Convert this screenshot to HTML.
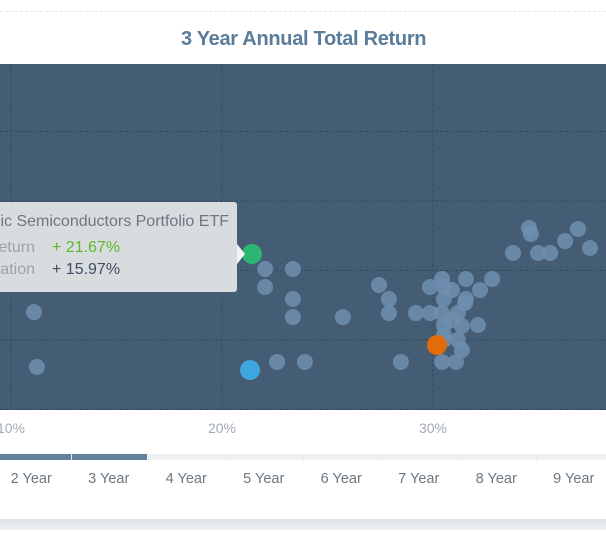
<!DOCTYPE html>
<html><head><meta charset="utf-8"><style>
body{margin:0;width:606px;height:548px;overflow:hidden;background:#fff;font-family:"Liberation Sans",sans-serif;position:relative}
.abs{position:absolute}
</style></head><body>
<div class="abs" style="left:0;top:11px;width:606px;border-top:1px dashed #e4e7ea"></div>
<div class="abs" style="left:181px;width:242px;top:28px;text-align:center;font-size:20px;font-weight:bold;color:#5b7b9b;white-space:nowrap;letter-spacing:-0.3px">3 Year Annual Total Return</div>
<svg class="abs" style="left:0;top:0" width="606" height="548">
<rect x="0" y="64" width="606" height="346" fill="#445d75"/>
<g id="grid"></g><g id="pts"></g><g id="xt"></g>
</svg>
<div class="abs" style="left:-10px;top:202px;width:247px;height:90px;background:#d9dcdf;border-radius:3px;overflow:hidden">
<div style="position:absolute;right:8px;top:11px;white-space:nowrap;font-size:16px;color:#6c7782">Invesco Dynamic Semiconductors Portfolio ETF</div>
<div style="position:absolute;right:202px;top:37px;font-size:16px;color:#9aa3ab;white-space:nowrap">Return</div>
<div style="position:absolute;right:202px;top:59px;font-size:16px;color:#9aa3ab;white-space:nowrap">Standard Deviation</div>
<div style="position:absolute;left:62px;top:37px;font-size:16px;color:#5cb82a">+ 21.67%</div>
<div style="position:absolute;left:62px;top:59px;font-size:16px;color:#3d4f62">+ 15.97%</div>
</div>
<div class="abs" style="left:237px;top:244px;width:0;height:0;border-top:10px solid transparent;border-bottom:10px solid transparent;border-left:8px solid #f3f4f5"></div>
<div class="abs" style="left:0;top:454px;width:606px;height:60px">
<div class="abs" style="left:0;top:0;width:606px;height:6px;background:#f0f1f2"></div>
<div class="abs" style="left:0;top:0;width:147px;height:6px;background:#62819e"></div>
<div id="tabs"></div>
</div>
<div class="abs" style="left:0;top:519px;width:606px;height:11px;background:linear-gradient(#dfe2e4,#eef0f1)"></div>
<script>
const xs=[11.09,11.23,22.04,22.04,23.36,23.36,23.36,22.61,23.93,25.73,27.44,27.91,27.91,28.48,29.19,29.86,30.43,30.52,30.90,31.56,32.80,32.23,31.56,30.52,29.86,30.43,31.18,31.37,32.13,30.52,30.52,31.18,31.37,30.43,31.09,33.79,34.55,34.64,34.98,35.55,36.26,36.87,37.44,30.52,31.52,30.90];
const ys=[12.01,8.06,15.11,13.81,15.11,12.95,11.65,8.42,8.42,11.65,13.96,12.95,11.94,8.42,11.94,13.81,14.39,13.81,13.60,14.39,14.39,13.60,12.95,12.95,11.94,11.94,11.94,11.01,11.08,11.08,10.00,10.00,9.28,8.42,8.42,16.26,18.06,17.63,16.26,16.26,17.12,17.99,16.62,10.36,12.66,11.44];
const hiX=[21.42,21.33,30.19];
const hiY=[16.19,7.84,9.64];
const hiC=['#2bb673','#3fa7e0','#e36c0a'];
const xTicks=[10,20,30];
const yGrid=[5,10,15,20,25];
const tabs=['2 Year','3 Year','4 Year','5 Year','6 Year','7 Year','8 Year','9 Year'];
const X=v=>222+(v-20)*21.1, Y=v=>340-(v-10)*13.9;
const NS='http://www.w3.org/2000/svg';
function mk(t,a,p){const e=document.createElementNS(NS,t);for(const k in a)e.setAttribute(k,a[k]);p.appendChild(e);return e;}
const grid=document.getElementById('grid');
xTicks.forEach(v=>{const l=mk('line',{x1:X(v),x2:X(v),y1:64,y2:410,stroke:'#35495c','stroke-dasharray':'3,2'},grid);

});
yGrid.forEach(v=>{const l=mk('line',{x1:0,x2:606,y1:Y(v),y2:Y(v),stroke:'#35495c','stroke-dasharray':'3,2'},grid);

});
const pts=document.getElementById('pts');
xs.forEach((v,i)=>{const c=mk('circle',{cx:X(v),cy:Y(ys[i]),r:8,fill:'#6f8faf','fill-opacity':0.85},pts);

});
hiX.forEach((v,i)=>{const c=mk('circle',{cx:X(v),cy:Y(hiY[i]),r:10,fill:hiC[i]},pts);

});
const xt=document.getElementById('xt');
xTicks.forEach(v=>{const t=mk('text',{x:X(v),y:433,'text-anchor':'middle','font-size':14,fill:'#a3abb3','font-family':'Liberation Sans, sans-serif'},xt);t.textContent=v+'%';

});
const tb=document.getElementById('tabs');
tabs.forEach((s,i)=>{const d=document.createElement('div');


const w=77.5,l=-8+i*w;
d.style.cssText='position:absolute;top:0;left:'+l+'px;width:'+(w-1)+'px;height:50px;text-align:center;font-size:14.5px;color:#6c7782;line-height:32px;padding-top:9px;border-left:1px solid transparent;background:linear-gradient(to right,#e4e6e8 1px,transparent 1px) no-repeat 0 0/100% 6px';
d.textContent=s;tb.appendChild(d);});
</script>
</body></html>
